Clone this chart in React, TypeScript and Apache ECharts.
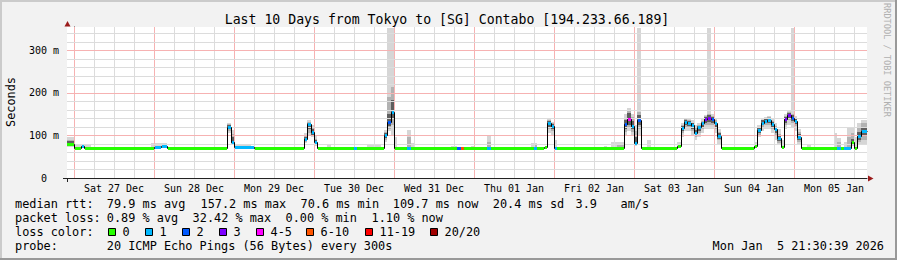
import React, { useEffect, useRef } from 'react';
import * as echarts from 'echarts';

const FONT = 'DejaVu Sans Mono';
const X_MIN = -2.1;
const X_MAX = 237.9;
const Y_MAX = 354;

const title = 'Last 10 Days from Tokyo to [SG] Contabo [194.233.66.189]';
const dayLabels = ['Sat 27 Dec', 'Sun 28 Dec', 'Mon 29 Dec', 'Tue 30 Dec', 'Wed 31 Dec', 'Thu 01 Jan', 'Fri 02 Jan', 'Sat 03 Jan', 'Sun 04 Jan', 'Mon 05 Jan'];
const dayNoonHours = [12, 36, 60, 84, 108, 132, 156, 180, 204, 228];
const yTickValues = [0, 100, 200, 300];
const yTickLabels = ['0', '100 m', '200 m', '300 m'];

const lossColors = ['#26ff00', '#00b8ff', '#0059ff', '#7e00ff', '#ff00ff', '#ff5500', '#ff0000', '#a10000'];
const lossLabels = ['0', '1', '2', '3', '4-5', '6-10', '11-19', '20/20'];

// [startHour, endHour, median ms, loss bucket]  (hours from Sat 27 Dec 00:00)
const medianRuns: number[][] = [
  [-2.1, 0, 80, 0], [0, 2, 71, 0], [2, 3, 74, 1], [3, 24, 71, 0], [24, 26, 73, 1], [26, 28, 75, 1],
  [28, 46, 71, 0], [46, 47, 120, 1], [47, 48, 85, 1], [48, 54, 72, 1], [54, 69, 71, 0],
  [69, 70, 92, 1], [70, 71, 127, 1], [71, 72, 108, 1], [72, 73, 84, 1], [73, 84, 71, 0],
  [84, 85, 71, 1], [85, 93, 71, 0], [93, 94, 101, 1], [94, 95, 132, 2], [95, 96, 155, 1],
  [96, 100, 71, 0], [100, 101, 71, 1], [101, 115, 71, 0], [115, 116, 71, 2], [116, 117, 71, 5],
  [117, 124, 71, 0], [124, 125, 71, 1], [125, 138, 71, 0], [138, 139, 71, 1], [139, 141, 71, 0],
  [141, 142, 73, 0], [142, 143, 130, 1], [143, 144, 122, 1], [144, 145, 71, 1], [145, 165, 71, 0],
  [165, 166, 126, 2], [166, 167, 139, 4], [167, 168, 123, 1], [168, 169, 82, 1], [169, 170, 137, 2],
  [170, 181, 71, 0], [181, 182, 75, 0], [182, 183, 118, 1], [183, 184, 131, 1], [184, 185, 130, 1],
  [185, 186, 124, 1], [186, 187, 105, 1], [187, 188, 119, 1], [188, 189, 128, 1], [189, 190, 138, 3],
  [190, 191, 140, 3], [191, 192, 138, 2], [192, 193, 128, 1], [193, 194, 99, 1], [194, 204, 71, 0],
  [204, 205, 75, 0], [205, 206, 112, 1], [206, 207, 130, 1], [207, 208, 134, 1], [208, 209, 136, 1],
  [209, 210, 126, 1], [210, 211, 114, 1], [211, 212, 93, 1], [212, 213, 73, 0], [213, 214, 138, 3],
  [214, 215, 147, 3], [215, 216, 141, 2], [216, 217, 134, 1], [217, 218, 97, 1], [218, 229, 71, 0],
  [229, 230, 71, 1], [230, 231, 71, 0], [231, 233, 71, 1], [233, 234, 84, 0], [234, 235, 71, 0],
  [235, 236, 98, 1], [236, 237.9, 110, 1],
];

// smoke ranges [startHour, endHour, low ms, high ms]
const smokeLight: number[][] = [
  [-2.1, 0, 72, 95], [0, 5, 71, 80], [23, 28, 71, 82], [46, 47, 105, 130], [47, 48, 78, 112], [48, 53, 71, 80],
  [69, 70, 82, 105], [70, 71, 100, 135], [71, 72, 95, 125], [72, 73, 74, 100], [76, 77, 71, 78], [88, 92, 71, 80],
  [93, 94, 85, 112], [94, 95, 110, 352], [95, 96, 100, 352], [96, 97, 71, 97], [100, 101, 71, 112], [101, 102, 71, 82],
  [113, 115, 71, 75], [119, 120, 71, 76], [124, 125, 71, 100], [137, 139, 71, 81], [142, 143, 105, 138], [143, 144, 100, 132],
  [144, 145, 71, 90], [159, 160, 71, 76], [161, 165, 71, 85], [165, 166, 100, 150], [166, 167, 110, 164], [167, 168, 100, 150],
  [168, 169, 75, 125], [169, 170, 100, 352], [172, 173, 71, 89],
  [181, 182, 72, 85], [182, 183, 95, 130], [183, 184, 110, 140], [184, 185, 110, 140], [185, 186, 100, 135], [186, 187, 88, 125],
  [187, 188, 95, 130], [188, 189, 105, 140], [189, 190, 115, 148], [190, 191, 115, 352], [191, 192, 115, 150], [192, 193, 105, 140],
  [193, 194, 80, 115],
  [204, 205, 72, 85], [205, 206, 95, 125], [206, 207, 110, 140], [207, 208, 115, 142], [208, 209, 115, 145], [209, 210, 105, 138],
  [210, 211, 90, 130], [211, 212, 78, 115], [212, 213, 72, 90], [213, 214, 115, 150], [214, 215, 125, 160], [215, 216, 120, 352],
  [216, 217, 110, 145], [217, 218, 80, 115],
  [220, 221, 71, 80], [228, 229, 71, 105], [229, 230, 71, 94], [231, 232, 71, 85], [232, 233, 71, 117], [233, 234, 75, 117],
  [234, 235, 71, 95], [235, 236, 78, 130], [236, 237.9, 80, 135],
];
const smokeMid: number[][] = [
  [-2.1, 0, 75, 90], [46, 47, 110, 127], [47, 48, 80, 102], [69, 70, 85, 100], [70, 71, 105, 132], [71, 72, 98, 118],
  [72, 73, 78, 92], [93, 94, 90, 108], [94, 95, 115, 190], [95, 96, 125, 213], [100, 101, 71, 95], [124, 125, 71, 85],
  [138, 139, 71, 78], [142, 143, 115, 135], [143, 144, 110, 128], [163, 165, 71, 80], [165, 166, 108, 140], [166, 167, 118, 158],
  [167, 168, 108, 142], [168, 169, 77, 110], [169, 170, 115, 155],
  [182, 183, 105, 125], [183, 184, 120, 138], [184, 185, 118, 136], [185, 186, 110, 130], [186, 187, 95, 118], [187, 188, 105, 125],
  [188, 189, 115, 134], [189, 190, 125, 145], [190, 191, 125, 150], [191, 192, 125, 145], [192, 193, 115, 135], [193, 194, 88, 108],
  [205, 206, 100, 120], [206, 207, 120, 137], [207, 208, 124, 140], [208, 209, 125, 142], [209, 210, 115, 133], [210, 211, 100, 122],
  [211, 212, 82, 102], [213, 214, 125, 145], [214, 215, 135, 155], [215, 216, 130, 150], [216, 217, 122, 140], [217, 218, 85, 108],
  [229, 230, 71, 85], [232, 233, 71, 95], [233, 234, 78, 105], [235, 236, 85, 120], [236, 237.9, 90, 128],
];
const smokeDark: number[][] = [
  [-2.1, 0, 77, 86], [46, 47, 114, 124], [47, 48, 82, 95], [69, 70, 87, 97], [70, 71, 115, 130], [71, 72, 100, 114],
  [72, 73, 80, 88], [93, 94, 94, 106], [94, 95, 122, 150], [95, 96, 140, 183], [142, 143, 120, 133], [143, 144, 115, 126],
  [165, 166, 115, 135], [166, 167, 125, 152], [167, 168, 114, 134], [168, 169, 78, 95], [169, 170, 125, 148],
  [182, 183, 110, 122], [183, 184, 124, 135], [184, 185, 122, 133], [185, 186, 116, 128], [186, 187, 98, 112], [187, 188, 110, 122],
  [188, 189, 120, 132], [189, 190, 130, 143], [190, 191, 132, 148], [191, 192, 130, 142], [192, 193, 120, 132], [193, 194, 92, 105],
  [205, 206, 105, 118], [206, 207, 124, 135], [207, 208, 128, 139], [208, 209, 129, 141], [209, 210, 119, 131], [210, 211, 106, 120],
  [211, 212, 86, 99], [213, 214, 130, 143], [214, 215, 140, 152], [215, 216, 134, 147], [216, 217, 127, 139], [217, 218, 90, 103],
  [233, 234, 80, 92], [235, 236, 90, 108], [236, 237.9, 100, 120],
];

const legendRows: { y: number; tokens: [number, string][] }[] = [
  { y: 204, tokens: [[15, 'median rtt:'], [106.8, '79.9 ms avg'], [200.5, '157.2 ms max'], [300.5, '70.6 ms min'], [392.8, '109.7 ms now'], [492.8, '20.4 ms sd'], [575.5, '3.9'], [620.5, 'am/s']] },
  { y: 218, tokens: [[15, 'packet loss:'], [106.8, '0.89 % avg'], [192.6, '32.42 % max'], [285.5, '0.00 % min'], [371.5, '1.10 % now']] },
  { y: 232, tokens: [[15, 'loss color:']] },
  { y: 246, tokens: [[15, 'probe:'], [106.8, '20 ICMP Echo Pings (56 Bytes) every 300s'], [712.6, 'Mon Jan'], [776.9, '5 21:30:39 2026']] },
];
const lossBoxX = [108, 145, 182, 219, 256, 306, 365, 430];

const LIGHT = '#d6d6d6';
const MID = '#b2b2b2';
const DARK = '#5e5e5e';
const MINOR = '#dcdcdc';
const MAJOR = '#f6b2b2';

function smokeSeries(data: number[][], color: string, z: number) {
  return {
    type: 'custom', z, silent: true, clip: true, data,
    renderItem: (p: any, api: any) => {
      const [s, e, lo, hi] = data[p.dataIndex];
      const a = api.coord([s, hi]);
      const b = api.coord([e, lo]);
      const x0 = Math.round(a[0]), x1 = Math.round(b[0]);
      const y0 = Math.round(a[1]), y1 = Math.round(b[1]);
      return { type: 'rect', shape: { x: x0, y: y0, width: x1 - x0, height: y1 - y0 }, style: { fill: color } };
    },
  };
}

export default function App() {
  const ref = useRef<HTMLDivElement>(null);
  useEffect(() => {
    const chart = echarts.init(ref.current!, null, { renderer: 'svg', width: 897, height: 260 });

    // grid lines: [hour, ms, kind(0 vertical / 1 horizontal), major]
    const gridLines: number[][] = [];
    for (let h = 0; h <= 234; h += 6) gridLines.push([h, 0, 0, h % 24 === 0 ? 1 : 0]);
    for (let v = 20; v <= 340; v += 20) gridLines.push([X_MIN, v, 1, v % 100 === 0 ? 1 : 0]);

    const graphic: any[] = [
      { type: 'rect', shape: { x: 0, y: 0, width: 897, height: 2 }, style: { fill: '#cbcbcb' }, silent: true },
      { type: 'rect', shape: { x: 0, y: 0, width: 2, height: 260 }, style: { fill: '#cbcbcb' }, silent: true },
      { type: 'rect', shape: { x: 0, y: 258, width: 897, height: 2 }, style: { fill: '#999999' }, silent: true },
      { type: 'rect', shape: { x: 895, y: 0, width: 2, height: 260 }, style: { fill: '#999999' }, silent: true },
      { type: 'text', x: 447, y: 19, style: { text: title, fontFamily: FONT, fontSize: 13.2, fill: '#000', align: 'center', verticalAlign: 'middle' } },
      { type: 'text', x: 10.5, y: 102, rotation: Math.PI / 2, style: { text: 'Seconds', fontFamily: FONT, fontSize: 11.86, fill: '#000', align: 'center', verticalAlign: 'middle' } },
      { type: 'text', x: 887, y: 60, rotation: -Math.PI / 2, style: { text: 'RRDTOOL / TOBI OETIKER', fontFamily: FONT, fontSize: 8.6, fill: '#b0b0b0', align: 'center', verticalAlign: 'middle' } },
      { type: 'rect', shape: { x: 63, y: 178, width: 4, height: 1 }, style: { fill: '#222' } },
      { type: 'rect', shape: { x: 67, y: 178, width: 1, height: 4 }, style: { fill: '#222' } },
      { type: 'polygon', shape: { points: [[868, 175.5], [873.5, 178.5], [868, 181.5]] }, style: { fill: '#9b1b1b' } },
      { type: 'polygon', shape: { points: [[64.5, 26.5], [67.5, 21], [70.5, 26.5]] }, style: { fill: '#9b1b1b' } },
    ];
    legendRows.forEach((row) => {
      row.tokens.forEach(([x, t]) => {
        graphic.push({ type: 'text', x, y: row.y, style: { text: t, fontFamily: FONT, fontSize: 11.86, fill: '#000', align: 'left', verticalAlign: 'middle' } });
      });
    });
    lossLabels.forEach((lab, i) => {
      const bx = lossBoxX[i];
      graphic.push({ type: 'rect', shape: { x: bx + 0.5, y: 228.5, width: 7, height: 7 }, style: { fill: lossColors[i], stroke: '#000', lineWidth: 1 } });
      graphic.push({ type: 'text', x: bx + 14.5, y: 232, style: { text: lab, fontFamily: FONT, fontSize: 11.86, fill: '#000', align: 'left', verticalAlign: 'middle' } });
    });

    const option: any = {
      animation: false,
      backgroundColor: '#f2f2f2',
      grid: { left: 67, top: 27, width: 800, height: 151, show: true, backgroundColor: '#ffffff', borderWidth: 0 },
      xAxis: {
        type: 'value', min: X_MIN, max: X_MAX,
        axisLine: { show: true, lineStyle: { color: '#222', width: 1 } },
        axisTick: { show: false }, splitLine: { show: false },
        axisLabel: {
          customValues: dayNoonHours,
          formatter: (v: number) => dayLabels[dayNoonHours.indexOf(Math.round(v))] ?? '',
          fontFamily: FONT, fontSize: 10, color: '#000', margin: 5,
        },
      },
      yAxis: {
        type: 'value', min: 0, max: Y_MAX,
        axisLine: { show: true, lineStyle: { color: '#222', width: 1 } },
        axisTick: { show: false }, splitLine: { show: false },
        axisLabel: {
          customValues: yTickValues,
          formatter: (v: number) => {
            const i = yTickValues.indexOf(Math.round(v));
            if (i < 0) return '';
            return v === 0 ? '{z|' + yTickLabels[i] + '}' : yTickLabels[i];
          },
          fontFamily: FONT, fontSize: 10, color: '#000', margin: 8,
          rich: { z: { fontFamily: FONT, fontSize: 10, color: '#000', padding: [0, 12, 0, 0] } },
        },
      },
      series: [
        smokeSeries(smokeLight, LIGHT, 2),
        smokeSeries(smokeMid, MID, 3),
        smokeSeries(smokeDark, DARK, 4),
        {
          type: 'custom', z: 5, silent: true, data: gridLines,
          renderItem: (p: any, api: any) => {
            const [h, v, kind, major] = gridLines[p.dataIndex];
            const fill = major ? MAJOR : MINOR;
            if (kind === 0) {
              const top = api.coord([h, Y_MAX]);
              const bot = api.coord([h, 0]);
              const x = Math.round(top[0]);
              const y0 = Math.round(top[1]);
              return { type: 'rect', shape: { x, y: y0, width: 1, height: Math.round(bot[1]) - y0 }, style: { fill } };
            }
            const l = api.coord([X_MIN, v]);
            const r = api.coord([X_MAX, v]);
            const x0 = Math.round(l[0]);
            return { type: 'rect', shape: { x: x0, y: Math.round(l[1]), width: Math.round(r[0]) - x0, height: 1 }, style: { fill } };
          },
        },
        {
          type: 'custom', z: 6, silent: true, data: medianRuns,
          renderItem: (p: any, api: any) => {
            const i = p.dataIndex;
            const [s, e, v] = medianRuns[i];
            const pv = i > 0 ? medianRuns[i - 1][2] : v;
            const ps = api.coord([s, v]);
            const pe = api.coord([e, v]);
            const pp = api.coord([s, pv]);
            const xs = Math.round(ps[0]) + 0.5, xe = Math.round(pe[0]) + 0.5;
            const y = Math.round(ps[1]) + 0.5, yp = Math.round(pp[1]) + 0.5;
            return { type: 'polyline', shape: { points: [[xs, yp], [xs, y], [xe, y]] }, style: { stroke: '#000', lineWidth: 1, fill: null } };
          },
        },
        {
          type: 'custom', z: 7, silent: true, data: medianRuns,
          renderItem: (p: any, api: any) => {
            const i = p.dataIndex;
            const [s, e, v, loss] = medianRuns[i];
            const pv = i > 0 ? medianRuns[i - 1][2] : v;
            const ps = api.coord([s, v]);
            const pe = api.coord([e, v]);
            const x0 = Math.round(ps[0]) + (pv !== v ? 1 : 0);
            const x1 = Math.round(pe[0]);
            const yc = Math.round(ps[1]);
            return { type: 'rect', shape: { x: x0, y: yc - 1, width: Math.max(0, x1 - x0), height: 3 }, style: { fill: lossColors[loss] } };
          },
        },
      ],
      graphic,
    };
    chart.setOption(option);
    return () => chart.dispose();
  }, []);
  return <div ref={ref} style={{ position: 'fixed', left: 0, top: 0, width: 897, height: 260 }} />;
}
